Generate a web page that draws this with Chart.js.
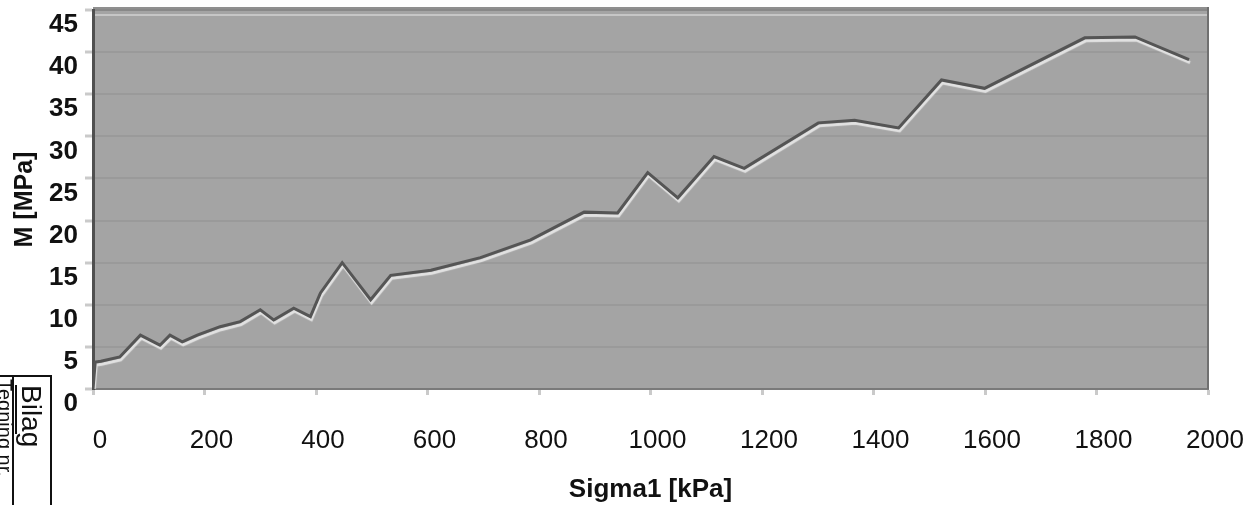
<!DOCTYPE html>
<html>
<head>
<meta charset="utf-8">
<script src="https://cdn.jsdelivr.net/npm/chart.js@4"></script>
<style>
    html, body { margin: 0; padding: 0; background: #fff; }
    #wrap { position: relative; width: 1253px; height: 505px; overflow: hidden; }
    #stamp {
        position: absolute; left: -2px; top: 375px; width: 52px; height: 140px;
        border-top: 2px solid #111; border-right: 2px solid #111;
    }
    #stamp .col {
        position: absolute; top: 0; left: 14px; width: 38px; height: 140px;
        border-left: 2px solid #111;
    }
    #stamp .bilag {
        position: absolute; left: 1px; top: 8px;
        writing-mode: vertical-rl;
        font: 28px "Liberation Sans", Arial, sans-serif;
        text-decoration: underline; color: #111;
    }
    #stamp .side {
        position: absolute; left: 0; top: 0; width: 14px; height: 140px; overflow: hidden;
    }
    #stamp .side span {
        position: absolute; left: -5px; top: 2px;
        writing-mode: vertical-rl;
        font: 20px "Liberation Sans", Arial, sans-serif; color: #111;
    }
</style>
</head>
<body>
<div id="wrap">
    <canvas id="chart" width="1253" height="505"></canvas>
    <div id="stamp">
        <div class="side"><span>Tegning nr.</span></div>
        <div class="col"><span class="bilag">Bilag</span></div>
    </div>
</div>
<script>
// Sigma1 [kPa] vs M [MPa]
const sigma1 = [0, 4, 14, 48, 85, 120, 138, 160, 187, 228, 264, 300, 324, 360, 390, 408, 447, 498, 534, 606,
    695, 785, 881, 941, 995, 1049, 1114, 1168, 1301, 1366, 1445, 1522, 1599, 1779, 1869, 1966];
const modulus = [0, 3.2, 3.3, 3.8, 6.4, 5.2, 6.4, 5.6, 6.4, 7.4, 8.0, 9.4, 8.2, 9.6, 8.6, 11.4, 15.0, 10.6, 13.5, 14.1,
    15.6, 17.7, 21.0, 20.9, 25.7, 22.7, 27.6, 26.2, 31.6, 31.9, 31.0, 36.7, 35.7, 41.7, 41.8, 39.1];

const xTicks = [0, 200, 400, 600, 800, 1000, 1200, 1400, 1600, 1800, 2000];
const yTicks = [0, 5, 10, 15, 20, 25, 30, 35, 40, 45];

const fontFamily = '"Liberation Sans", Arial, sans-serif';

// grey plot area with a dark frame
const plotBackground = {
    id: 'plotBackground',
    beforeDraw(chart) {
        const { ctx, chartArea: a } = chart;
        ctx.save();
        ctx.fillStyle = '#a4a4a4';
        ctx.fillRect(a.left, a.top - 3, a.width, a.height + 3);
        ctx.fillStyle = '#8f8f8f';
        ctx.fillRect(a.left, a.top - 3, a.width, 4);
        ctx.fillStyle = '#c6c6c6';
        ctx.fillRect(a.left, a.top + 4, a.width, 2);
        ctx.restore();
    },
    afterDraw(chart) {
        const { ctx, chartArea: a } = chart;
        ctx.save();
        ctx.strokeStyle = '#707070';
        ctx.lineWidth = 2;
        ctx.beginPath();
        ctx.moveTo(a.right, a.top - 3);
        ctx.lineTo(a.right, a.bottom);
        ctx.stroke();
        ctx.restore();
    }
};

// embossed look: dark line with a light shadow under it
const embossLine = {
    id: 'embossLine',
    beforeDatasetDraw(chart) {
        const ctx = chart.ctx;
        ctx.save();
        ctx.shadowColor = 'rgba(230, 230, 230, 0.95)';
        ctx.shadowOffsetX = 1;
        ctx.shadowOffsetY = 3;
        ctx.shadowBlur = 1;
    },
    afterDatasetDraw(chart) {
        chart.ctx.restore();
    }
};

new Chart(document.getElementById('chart'), {
    type: 'line',
    data: {
        datasets: [{
            data: sigma1.map((s, i) => ({ x: s, y: modulus[i] })),
            borderColor: '#555555',
            borderWidth: 3,
            pointRadius: 0,
            tension: 0,
            fill: false
        }]
    },
    options: {
        responsive: false,
        animation: false,
        layout: { autoPadding: false, padding: { top: 10, right: 45, bottom: 0, left: 0 } },
        plugins: {
            legend: { display: false },
            tooltip: { enabled: false }
        },
        scales: {
            x: {
                type: 'linear',
                min: 0,
                max: 2000,
                afterFit: (scale) => {
                    scale.height = 116;
                    scale.paddingLeft = 0;
                    scale.paddingRight = 0;
                },
                afterBuildTicks: (scale) => { scale.ticks = xTicks.map(v => ({ value: v })); },
                grid: { display: true, drawOnChartArea: false, tickLength: 6, tickColor: '#cacaca', tickWidth: 3 },
                border: { display: true, color: '#7a7a7a', width: 2 },
                ticks: {
                    color: '#111',
                    padding: 30,
                    labelOffset: 7,
                    maxRotation: 0,
                    callback: (v) => String(v),
                    font: { family: fontFamily, size: 26 }
                },
                title: {
                    display: true,
                    text: 'Sigma1 [kPa]',
                    color: '#111',
                    padding: 0,
                    font: { family: fontFamily, size: 26, weight: 'bold' }
                }
            },
            y: {
                min: 0,
                max: 45,
                afterFit: (scale) => {
                    scale.width = 93;
                    scale.paddingTop = 0;
                    scale.paddingBottom = 0;
                },
                afterBuildTicks: (scale) => { scale.ticks = yTicks.map(v => ({ value: v })); },
                grid: {
                    color: 'rgba(95, 95, 95, 0.13)',
                    lineWidth: 2,
                    tickLength: 8,
                    tickColor: '#cacaca',
                    tickWidth: 3
                },
                border: { display: true, color: '#505050', width: 3 },
                ticks: {
                    color: '#111',
                    padding: 7,
                    labelOffset: 15,
                    callback: (v) => String(v),
                    font: { family: fontFamily, size: 26, weight: 'bold' }
                },
                title: {
                    display: true,
                    text: 'M [MPa]',
                    color: '#111',
                    padding: { top: 10, bottom: 0 },
                    font: { family: fontFamily, size: 25, weight: 'bold' }
                }
            }
        }
    },
    plugins: [plotBackground, embossLine]
});
</script>
</body>
</html>
